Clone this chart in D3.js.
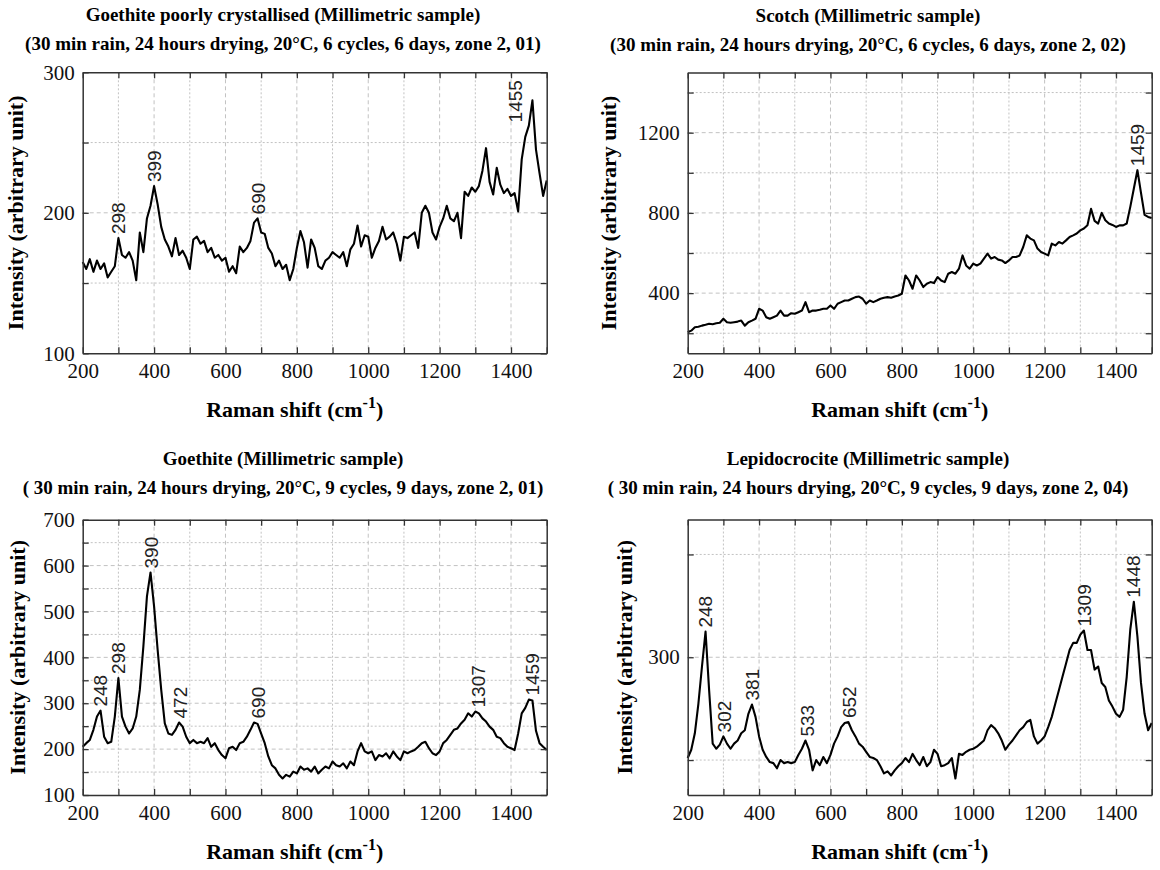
<!DOCTYPE html>
<html>
<head>
<meta charset="utf-8">
<script src="https://cdn.jsdelivr.net/npm/d3@7"></script>
<style>
  body { margin: 0; background: #fff; }
  svg { display: block; }
</style>
</head>
<body>
<svg id="chart" width="1160" height="870"></svg>
<script>
// Raman shift grid (cm-1), every 10 from 200 to 1500
const shift = d3.range(200, 1501, 10);

// intensities
const goethitePoorly = [
  165,160,167,158,166,160,164,154,158,162,
  182,170,168,172,166,152,186,172,196,205,
  219,206,190,181,176,169,182,170,173,168,
  160,181,183,178,180,172,175,168,170,166,
  168,158,162,157,176,172,175,180,193,196,
  186,185,175,171,162,166,160,163,152,160,
  175,187,179,161,181,175,162,160,166,168,
  172,170,168,172,162,174,178,191,176,184,
  183,168,175,180,190,181,183,186,178,166,
  183,182,184,186,175,200,205,200,186,181,
  190,196,205,196,194,200,182,215,212,218,
  215,219,230,246,222,213,232,220,214,217,
  212,214,201,238,254,262,280,245,228,212,
  223
];
const scotch = [
  205,213,230,232,238,242,247,245,250,252,
  272,255,252,255,258,263,238,255,263,272,
  322,313,280,272,280,288,313,288,288,300,
  297,305,313,355,305,313,313,317,322,322,
  338,322,347,355,363,363,372,380,383,372,
  347,363,355,363,372,377,380,377,383,388,
  397,488,463,422,488,463,430,447,455,450,
  480,463,455,497,505,497,522,588,538,522,
  547,538,547,572,597,572,580,567,563,550,
  563,580,580,588,630,688,672,663,622,605,
  597,588,647,638,655,647,663,680,688,697,
  713,722,738,820,760,747,800,763,747,740,
  730,738,738,747,830,922,1013,900,790,780,
  775
];
const goethite = [
  205,213,220,242,271,284,227,213,216,271,
  355,271,249,234,245,271,329,424,533,585,
  511,416,329,256,234,231,242,258,249,227,
  213,220,213,216,213,224,205,213,198,187,
  180,202,205,198,213,216,227,242,258,255,
  234,213,184,165,158,144,136,144,140,151,
  147,162,155,158,151,162,147,155,162,158,
  173,165,162,169,158,173,165,195,213,195,
  191,195,176,187,184,191,180,195,184,176,
  195,191,195,198,205,213,216,202,191,187,
  195,213,220,231,242,245,256,264,278,271,
  282,278,267,260,249,242,227,224,213,205,
  202,198,234,278,290,308,306,240,213,205,
  198
];
const lepidocrocite = [
  202,210,226,255,291,325,268,216,211,215,
  223,216,211,216,219,226,229,245,254,242,
  223,210,203,198,197,192,200,197,198,197,
  198,205,211,219,210,190,200,195,203,197,
  205,216,223,232,236,237,229,223,216,213,
  208,203,202,200,194,187,189,185,190,194,
  197,202,198,206,200,195,203,194,198,210,
  206,194,195,197,202,182,206,205,208,210,
  211,213,216,219,229,234,231,226,219,210,
  215,219,224,229,232,237,239,223,216,219,
  223,232,242,255,268,281,294,307,314,314,
  322,326,307,307,288,291,275,271,258,252,
  245,242,249,281,327,354,320,275,245,229,
  236
];

// tick values
const xMajor = [200, 400, 600, 800, 1000, 1200, 1400];
const xMinor = [300, 500, 700, 900, 1100, 1300, 1500];
const yMajor1 = [100, 200, 300], yMinor1 = [150, 250];
const yMajor2 = [400, 800, 1200], yMinor2 = [200, 600, 1000, 1400];
const yMajor3 = [100, 200, 300, 400, 500, 600, 700], yMinor3 = [150, 250, 350, 450, 550, 650];
const yMajor4 = [300], yMinor4 = [200, 400];

// labelled peaks
const peaks1 = [298, 399, 690, 1455];
const peaks2 = [1459];
const peaks3 = [248, 298, 390, 472, 690, 1307, 1459];
const peaks4 = [248, 302, 381, 533, 652, 1309, 1448];

const titles = [
  "Goethite poorly crystallised (Millimetric sample)",
  "Scotch (Millimetric sample)",
  "Goethite (Millimetric sample)",
  "Lepidocrocite (Millimetric sample)"
];
const subtitles = [
  "(30 min rain, 24 hours drying, 20°C, 6 cycles, 6 days, zone 2, 01)",
  "(30 min rain, 24 hours drying, 20°C, 6 cycles, 6 days, zone 2, 02)",
  "( 30 min rain, 24 hours drying, 20°C, 9 cycles, 9 days, zone 2, 01)",
  "( 30 min rain, 24 hours drying, 20°C, 9 cycles, 9 days, zone 2, 04)"
];

const serif = "'Liberation Serif', 'DejaVu Serif', serif";
const sans = "'Liberation Sans', Arial, sans-serif";
const svg = d3.select('#chart');

function drawPanel(p) {
  const x = d3.scaleLinear().domain([200, 1500]).range([p.left, p.right]);
  const y = d3.scaleLinear().domain(p.yDomain).range([p.bottom, p.top]);
  const g = svg.append('g');

  // grid
  const xg = xMajor.concat(xMinor).filter(d => d > 200 && d < 1500);
  g.append('g').selectAll('line').data(xg).join('line')
    .attr('x1', d => x(d)).attr('x2', d => x(d))
    .attr('y1', p.top).attr('y2', p.bottom)
    .attr('stroke', '#c2c2c2').attr('stroke-width', 1)
    .attr('stroke-dasharray', d => xMajor.includes(d) ? '4,3' : '2,2');
  const yg = p.yMajor.concat(p.yMinor).filter(d => y(d) > p.top + 1 && y(d) < p.bottom - 1);
  g.append('g').selectAll('line').data(yg).join('line')
    .attr('x1', p.left).attr('x2', p.right)
    .attr('y1', d => y(d)).attr('y2', d => y(d))
    .attr('stroke', '#c2c2c2').attr('stroke-width', 1)
    .attr('stroke-dasharray', d => p.yMajor.includes(d) ? '4,3' : '2,2');

  // spectrum
  const line = d3.line().x((d, i) => x(shift[i])).y(d => y(d));
  g.append('path')
    .attr('d', line(p.data))
    .attr('fill', 'none')
    .attr('stroke', '#000')
    .attr('stroke-width', 2.1)
    .attr('stroke-linejoin', 'round');

  // axes, ticks inward on all four sides
  const xAll = xMajor.concat(xMinor);
  const yAll = p.yMajor.concat(p.yMinor);
  const axes = [
    [d3.axisBottom(x).tickValues(xAll).tickFormat(d => xMajor.includes(d) ? d : '').tickPadding(10), `translate(0,${p.bottom})`],
    [d3.axisTop(x).tickValues(xAll).tickFormat(''), `translate(0,${p.top})`],
    [d3.axisLeft(y).tickValues(yAll).tickFormat(d => p.yMajor.includes(d) ? d : '').tickPadding(8), `translate(${p.left},0)`],
    [d3.axisRight(y).tickValues(yAll).tickFormat(''), `translate(${p.right},0)`]
  ];
  axes.forEach(([ax, tr]) => {
    const a = g.append('g').attr('transform', tr)
      .call(ax.tickSizeInner(-6).tickSizeOuter(0));
    a.select('.domain').attr('stroke', '#333').attr('stroke-width', 1.5);
    a.selectAll('.tick line').attr('stroke', '#333').attr('stroke-width', 1.3);
    a.selectAll('.tick text').attr('font-family', serif).attr('font-size', 21).attr('fill', '#111');
  });

  // peak labels
  p.peaks.forEach(pk => {
    const near = p.data.filter((v, i) => Math.abs(shift[i] - pk) <= 10);
    const top = d3.max(near);
    const off = (p.labelOffset && p.labelOffset[pk]) || [0, 0];
    g.append('text')
      .attr('transform', `translate(${x(pk) + 7 + off[0]},${y(top) - 4 + off[1]}) rotate(-90)`)
      .attr('font-family', sans).attr('font-size', 19).attr('fill', '#222')
      .text(pk);
  });

  // titles
  g.append('text').attr('x', p.titleX).attr('y', p.titleY)
    .attr('text-anchor', 'middle').attr('font-family', serif)
    .attr('font-weight', 'bold').attr('font-size', 19).text(p.title);
  g.append('text').attr('x', p.titleX).attr('y', p.titleY + 29)
    .attr('text-anchor', 'middle').attr('font-family', serif)
    .attr('font-weight', 'bold').attr('font-size', 19).text(p.subtitle);

  // axis titles
  const xt = g.append('text')
    .attr('x', (p.left + p.right) / 2 - 20).attr('y', p.bottom + 64)
    .attr('text-anchor', 'middle').attr('font-family', serif)
    .attr('font-weight', 'bold').attr('font-size', 22);
  xt.append('tspan').text('Raman shift (cm');
  xt.append('tspan').attr('dy', -9).attr('font-size', 16).text('-1');
  xt.append('tspan').attr('dy', 9).text(')');

  g.append('text')
    .attr('transform', `translate(${p.left - p.yTitleGap},${(p.top + p.bottom) / 2}) rotate(-90)`)
    .attr('text-anchor', 'middle').attr('font-family', serif)
    .attr('font-weight', 'bold').attr('font-size', 22)
    .text('Intensity (arbitrary unit)');
}

drawPanel({
  left: 82.7, right: 546.7, top: 72.3, bottom: 353.3, yDomain: [100, 300],
  yMajor: yMajor1, yMinor: yMinor1, data: goethitePoorly, peaks: peaks1,
  labelOffset: { 1455: [-16, 26] },
  title: titles[0], subtitle: subtitles[0], titleX: 283, titleY: 21, yTitleGap: 60
});
drawPanel({
  left: 687.7, right: 1151.7, top: 72.5, bottom: 353.3, yDomain: [100, 1500],
  yMajor: yMajor2, yMinor: yMinor2, data: scotch, peaks: peaks2,
  title: titles[1], subtitle: subtitles[1], titleX: 868, titleY: 22, yTitleGap: 72
});
drawPanel({
  left: 82.7, right: 546.7, top: 519.7, bottom: 795, yDomain: [100, 700],
  yMajor: yMajor3, yMinor: yMinor3, data: goethite, peaks: peaks3,
  title: titles[2], subtitle: subtitles[2], titleX: 283, titleY: 465, yTitleGap: 58
});
drawPanel({
  left: 687.7, right: 1151.7, top: 519.5, bottom: 795, yDomain: [166, 434],
  yMajor: yMajor4, yMinor: yMinor4, data: lepidocrocite, peaks: peaks4,
  title: titles[3], subtitle: subtitles[3], titleX: 868, titleY: 465, yTitleGap: 56
});
</script>
</body>
</html>
